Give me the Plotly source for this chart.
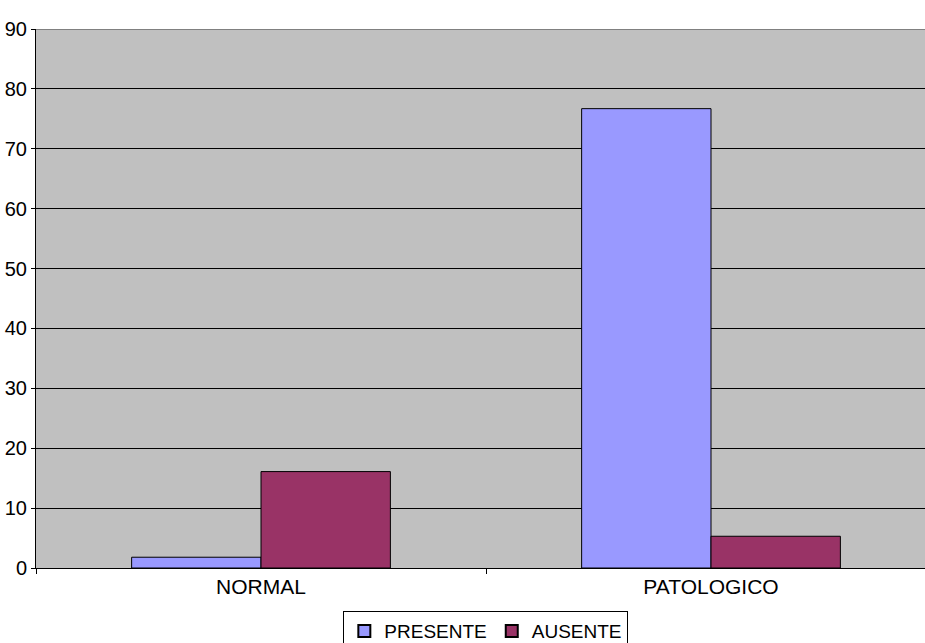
import plotly.graph_objects as go

# Categories and series
categories = ["NORMAL", "PATOLOGICO"]
presente = [1.8, 76.7]
ausente = [16.1, 5.3]
y_ticks = [0, 10, 20, 30, 40, 50, 60, 70, 80, 90]

FONT = "Liberation Sans Narrow, Arial Narrow, Liberation Sans, Arial, sans-serif"

fig = go.Figure()
fig.add_trace(go.Bar(
    x=categories, y=presente, name="PRESENTE",
    marker=dict(color="#9999FF", line=dict(color="#000000", width=1)),
))
fig.add_trace(go.Bar(
    x=categories, y=ausente, name="AUSENTE",
    marker=dict(color="#993366", line=dict(color="#000000", width=1)),
))

fig.update_layout(
    width=925, height=643,
    margin=dict(l=36, r=0, t=29, b=75, pad=0, autoexpand=False),
    paper_bgcolor="#FFFFFF",
    plot_bgcolor="#C0C0C0",
    barmode="group",
    bargap=0.425,
    bargroupgap=0,
    font=dict(family=FONT, color="#000000"),
    showlegend=True,
    legend=dict(
        orientation="h",
        x=0.506, xanchor="center",
        y=-0.08, yanchor="top",
        bgcolor="#FFFFFF",
        bordercolor="#000000", borderwidth=1,
        font=dict(family=FONT, size=19, color="#000000"),
        itemsizing="constant",
        itemwidth=30,
        tracegroupgap=0,
    ),
)

fig.update_xaxes(
    type="category",
    range=[-0.5, -0.5 + 889 / 450],
    showline=True, linecolor="#000000", linewidth=1,
    ticks="outside", tickson="boundaries", ticklen=5,
    tickcolor="#000000",
    showgrid=False,
    tickfont=dict(family=FONT, size=21, color="#000000"),
)

fig.update_yaxes(
    range=[0, 90],
    tickvals=y_ticks,
    showline=True, linecolor="#000000", linewidth=1,
    ticks="outside", ticklen=4, tickcolor="#000000",
    showgrid=True, gridcolor="#000000", gridwidth=1,
    zeroline=False,
    tickfont=dict(family=FONT, size=20, color="#000000"),
)

# Gray border along the top of the plot area
fig.add_shape(type="line", xref="paper", yref="y",
              x0=0, x1=1, y0=90, y1=90,
              line=dict(color="#808080", width=2))

fig.write_html("out.html")
